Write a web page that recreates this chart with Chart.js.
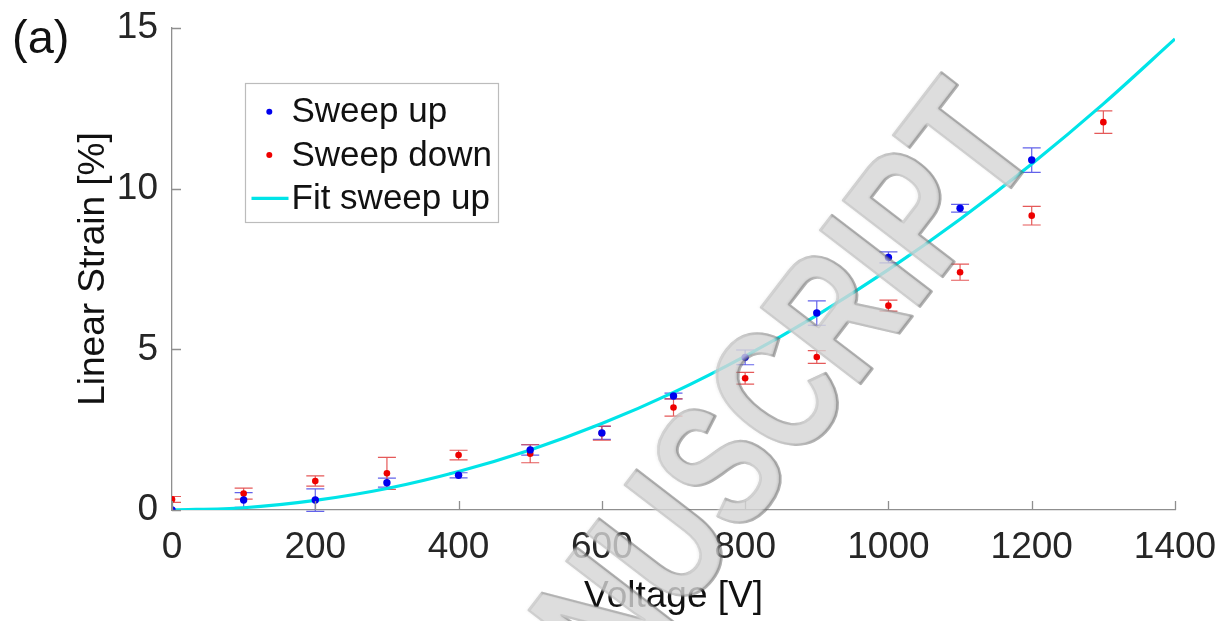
<!DOCTYPE html>
<html>
<head>
<meta charset="utf-8">
<script src="https://cdn.jsdelivr.net/npm/chart.js@4.4.1/dist/chart.umd.min.js"></script>
<style>
  html, body { margin: 0; padding: 0; background: #ffffff; }
  #wrap { width: 1222px; height: 621px; }
</style>
</head>
<body>
<div id="wrap"><canvas id="strainChart" width="1222" height="621"></canvas></div>
<script>
// Measured strain vs. applied voltage (sweep up / sweep down) with standard deviations
const voltages     = [0, 100, 200, 300, 400, 500, 600, 700, 800, 900, 1000, 1100, 1200, 1300];
const sweepUp      = [0.00, 0.31, 0.31, 0.85, 1.08, 1.87, 2.40, 3.55, 4.75, 6.13, 7.86, 9.39, 10.89, null];
const sweepUpErr   = [null, 0.23, 0.35, 0.14, 0.08, 0.16, 0.20, 0.09, 0.23, 0.38, 0.17, 0.12, 0.38, null];
const sweepDown    = [0.33, 0.51, 0.90, 1.14, 1.71, 1.75, 2.39, 3.19, 4.10, 4.76, 6.36, 7.40, 9.16, 12.07];
const sweepDownErr = [0.09, 0.17, 0.16, 0.50, 0.15, 0.28, 0.22, 0.27, 0.18, 0.20, 0.17, 0.25, 0.29, 0.35];

// Fitted curve for the sweep-up data
const fitVoltages = [0, 100, 200, 300, 400, 500, 600, 700, 800, 900, 1000, 1100, 1200, 1300, 1400];
const fitStrain   = [0, 0.07, 0.30, 0.67, 1.20, 1.87, 2.69, 3.66, 4.79, 6.06, 7.48, 9.05, 10.77, 12.64, 14.66];

// Axis ticks
const xTicks = [0, 200, 400, 600, 800, 1000, 1200, 1400];
const yTicks = [0, 5, 10, 15];

const FONT = '"Liberation Sans", Arial, Helvetica, sans-serif';
const TEXT = '#262626';
const AXIS = '#8f8f8f';

const toPoints = (xs, ys) => xs.map((v, i) => ({ x: v, y: ys[i] })).filter(p => p.y !== null);
const toErrors = (ys, es) => es.filter((e, i) => ys[i] !== null);

// Fixed axis box sizes so the plot area sits where the labels expect it
const fixBox = size => s => {
  if (s.isHorizontal()) s.height = size; else s.width = size;
  s.paddingTop = 0; s.paddingBottom = 0; s.paddingLeft = 0; s.paddingRight = 0;
};

// Vertical error bars with caps, drawn beneath the markers
const errorBars = {
  id: 'errorBars',
  beforeDatasetsDraw(chart) {
    const { ctx, chartArea: a, scales: { x, y } } = chart;
    ctx.save();
    ctx.beginPath();
    ctx.rect(a.left, a.top - 30, a.right - a.left + 30, a.bottom - a.top + 60);
    ctx.clip();
    chart.data.datasets.forEach(ds => {
      if (!ds.errors) return;
      ctx.strokeStyle = ds.errorColor;
      ctx.lineWidth = 1.2;
      ds.data.forEach((p, i) => {
        const e = ds.errors[i];
        if (e === null || e === undefined) return;
        const px = x.getPixelForValue(p.x);
        const top = y.getPixelForValue(p.y + e);
        const bot = y.getPixelForValue(p.y - e);
        const cap = 9;
        ctx.beginPath();
        ctx.moveTo(px, top); ctx.lineTo(px, bot);
        ctx.moveTo(px - cap, top); ctx.lineTo(px + cap, top);
        ctx.moveTo(px - cap, bot); ctx.lineTo(px + cap, bot);
        ctx.stroke();
      });
    });
    ctx.restore();
  }
};

// Inward-pointing tick marks on the left and bottom axes
const innerTicks = {
  id: 'innerTicks',
  afterDraw(chart) {
    const { ctx, chartArea: a, scales: { x, y } } = chart;
    ctx.save();
    ctx.strokeStyle = AXIS;
    ctx.lineWidth = 1.3;
    ctx.beginPath();
    x.ticks.forEach(t => {
      const px = Math.round(x.getPixelForValue(t.value)) + 0.5;
      ctx.moveTo(px, a.bottom); ctx.lineTo(px, a.bottom - 9);
    });
    y.ticks.forEach(t => {
      const py = Math.round(y.getPixelForValue(t.value)) + 0.5;
      ctx.moveTo(a.left, py); ctx.lineTo(a.left + 9, py);
    });
    ctx.stroke();
    ctx.restore();
  }
};

// Boxed legend inside the axes, panel tag "(a)"
const legendBox = {
  id: 'legendBox',
  afterDraw(chart) {
    const ctx = chart.ctx;
    const ds = chart.data.datasets;
    ctx.save();
    ctx.fillStyle = '#ffffff';
    ctx.strokeStyle = '#bcbcbc';
    ctx.lineWidth = 1.2;
    ctx.fillRect(245.5, 83.5, 253, 139);
    ctx.strokeRect(245.5, 83.5, 253, 139);
    const rows = [111.7, 155, 198.3];
    ctx.font = '35px ' + FONT;
    ctx.textBaseline = 'middle';
    ctx.textAlign = 'left';
    ds.forEach((d, i) => {
      const ry = rows[i];
      if (d.showLine === false) {
        ctx.fillStyle = d.backgroundColor;
        ctx.beginPath();
        ctx.arc(269.3, ry, 3, 0, Math.PI * 2);
        ctx.fill();
      } else {
        ctx.strokeStyle = d.borderColor;
        ctx.lineWidth = 3.2;
        ctx.beginPath();
        ctx.moveTo(251.5, ry); ctx.lineTo(288.5, ry);
        ctx.stroke();
      }
      ctx.fillStyle = '#111111';
      ctx.fillText(d.label, 291.5, ry + 1);
    });
    ctx.font = '47px ' + FONT;
    ctx.textBaseline = 'alphabetic';
    ctx.fillStyle = '#111111';
    ctx.fillText('(a)', 12, 52.5);
    ctx.restore();
  }
};

// Embossed diagonal watermark overlay
const watermark = {
  id: 'watermark',
  afterDraw(chart) {
    const ctx = chart.ctx;
    const text = 'ACCEPTED MANUSCRIPT';
    ctx.save();
    ctx.translate(1040, 147.5);
    ctx.rotate(-52.5 * Math.PI / 180);
    ctx.scale(0.74, 1);
    ctx.font = 'bold 182px ' + FONT;
    ctx.textAlign = 'right';
    ctx.textBaseline = 'alphabetic';
    ctx.lineJoin = 'round';
    // dark rim, offset toward the lower right
    ctx.filter = 'blur(0.6px)';
    ctx.strokeStyle = 'rgba(100,100,100,0.5)';
    ctx.lineWidth = 3;
    ctx.strokeText(text, 1.5, 1.5);
    ctx.fillStyle = 'rgba(125,125,125,0.45)';
    ctx.fillText(text, 1.5, 1.5);
    // pale face
    ctx.filter = 'blur(1.2px)';
    ctx.fillStyle = 'rgba(235,235,235,0.65)';
    ctx.fillText(text, -0.5, -0.5);
    ctx.restore();
  }
};

new Chart(document.getElementById('strainChart'), {
  type: 'scatter',
  data: {
    datasets: [
      {
        label: 'Sweep up',
        data: toPoints(voltages, sweepUp),
        errors: toErrors(sweepUp, sweepUpErr),
        errorColor: 'rgba(70,70,230,0.85)',
        showLine: false,
        backgroundColor: '#0000ee',
        pointRadius: 3.7,
        pointBorderWidth: 0,
        order: 0
      },
      {
        label: 'Sweep down',
        data: toPoints(voltages, sweepDown),
        errors: toErrors(sweepDown, sweepDownErr),
        errorColor: 'rgba(225,60,60,0.85)',
        showLine: false,
        backgroundColor: '#ee0000',
        pointRadius: 3.3,
        pointBorderWidth: 0,
        order: 1
      },
      {
        label: 'Fit sweep up',
        data: toPoints(fitVoltages, fitStrain),
        showLine: true,
        borderColor: 'rgb(0,228,232)',
        backgroundColor: 'rgb(0,228,232)',
        borderWidth: 3.2,
        pointRadius: 0,
        cubicInterpolationMode: 'monotone',
        order: 2
      }
    ]
  },
  options: {
    responsive: false,
    animation: false,
    layout: { padding: { top: 28, right: 47, left: 0, bottom: 0 } },
    plugins: { legend: { display: false }, tooltip: { enabled: false } },
    scales: {
      x: {
        type: 'linear',
        min: 0, max: 1400,
        afterBuildTicks: s => { s.ticks = xTicks.map(v => ({ value: v })); },
        afterFit: fixBox(111),
        grid: { display: false, drawTicks: false },
        border: { color: AXIS, width: 1.3 },
        ticks: { font: { family: FONT, size: 37 }, color: TEXT, padding: 16, maxRotation: 0, autoSkip: false, callback: v => String(v) },
        title: { display: true, text: 'Voltage [V]', color: '#111111', font: { family: FONT, size: 37 }, padding: { top: 0, bottom: 2 } }
      },
      y: {
        type: 'linear',
        min: 0, max: 15,
        afterBuildTicks: s => { s.ticks = yTicks.map(v => ({ value: v })); },
        afterFit: fixBox(172),
        grid: { display: false, drawTicks: false },
        border: { color: AXIS, width: 1.3 },
        ticks: { font: { family: FONT, size: 37 }, color: TEXT, padding: 14, autoSkip: false, callback: v => String(v) },
        title: { display: true, text: 'Linear Strain [%]', color: '#111111', font: { family: FONT, size: 37 }, padding: { top: 72, bottom: 0 } }
      }
    }
  },
  plugins: [errorBars, innerTicks, legendBox, watermark]
});
</script>
</body>
</html>
